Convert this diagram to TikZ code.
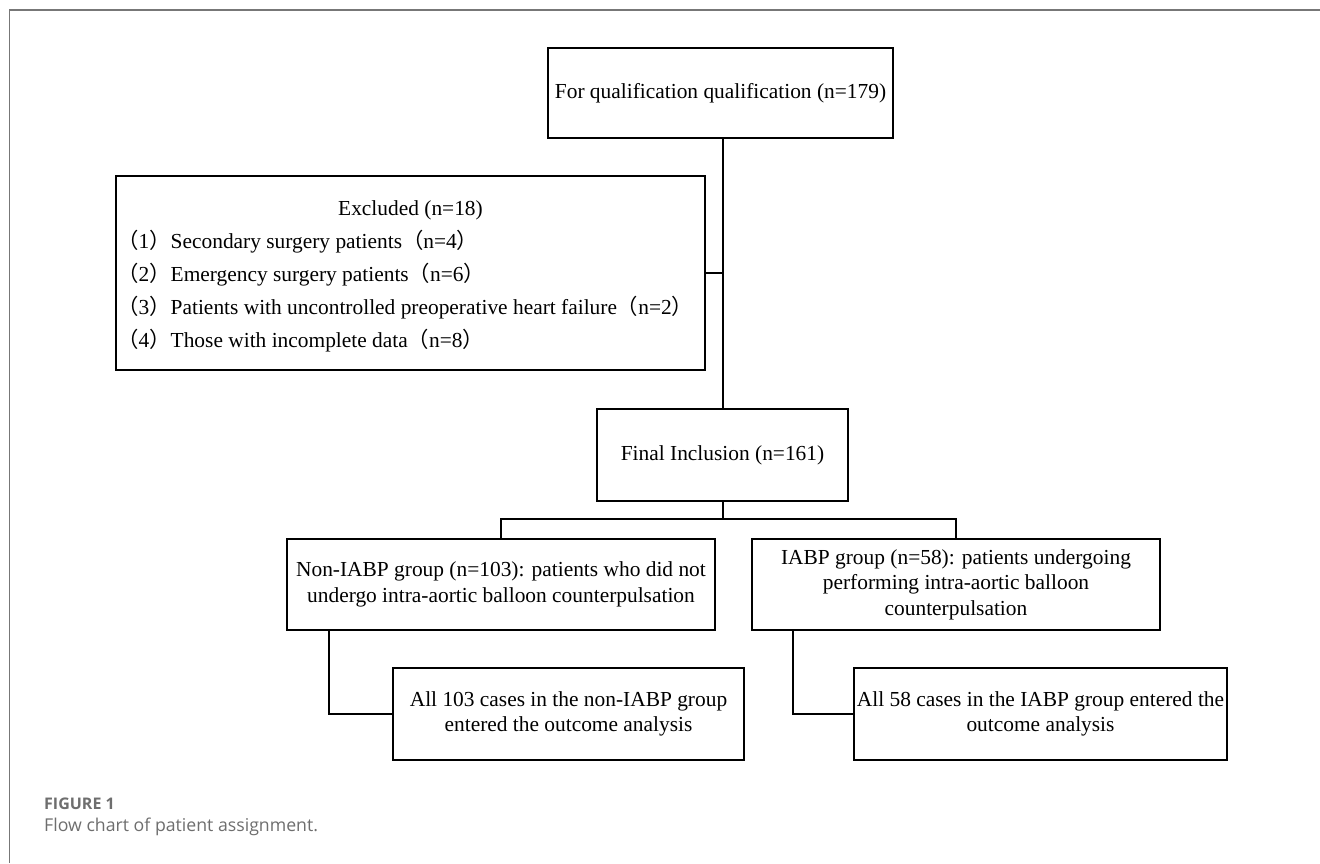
\documentclass[tikz,border=0pt]{standalone}
\usepackage{fontspec}
\setmainfont{Liberation Serif}
\newfontfamily\cjk{Noto Sans CJK SC}
\newfontfamily\capfont{Open Sans}
\definecolor{capgray}{HTML}{6E6E6E}
\definecolor{framegray}{HTML}{777777}
\newcommand{\fwl}{{\cjk （}}
\newcommand{\fwr}{{\cjk ）}}
\begin{document}
\begin{tikzpicture}[x=1pt,y=-1pt,
  box/.style={draw, line width=2pt, inner sep=0pt, align=center,
    font=\fontsize{21.4}{25.5}\selectfont},
  txt/.style={inner sep=0pt, font=\fontsize{21.4}{25.5}\selectfont},
  conn/.style={draw, line width=2pt},
  framec/.style={draw=framegray, line width=1.5pt}]
\useasboundingbox (0,0) rectangle (1320,863);
\fill[white] (0,0) rectangle (1320,863);
\draw[framec] (1320,10) -- (9.5,10) -- (9.5,863);

\node[box, minimum width=345pt, minimum height=90pt] (top) at (720.5,93) {For qualification qualification (n=179)};
\node[box, minimum width=589pt, minimum height=194pt] (exc) at (410.5,273) {};
\node[txt, anchor=base] (exct) at (410.5,215) {Excluded (n=18)};
\node[txt, anchor=base west] (ex1) at (117,248) {\fwl 1\fwr Secondary surgery patients\fwl n=4\fwr};
\node[txt, anchor=base west] (ex2) at (117,281) {\fwl 2\fwr Emergency surgery patients\fwl n=6\fwr};
\node[txt, anchor=base west] (ex3) at (117,314) {\fwl 3\fwr Patients with uncontrolled preoperative heart failure\fwl n=2\fwr};
\node[txt, anchor=base west] (ex4) at (117,347) {\fwl 4\fwr Those with incomplete data\fwl n=8\fwr};

\node[box, minimum width=251pt, minimum height=92pt] (fin) at (722.5,455) {Final Inclusion (n=161)};
\node[box, minimum width=428pt, minimum height=91pt] (non) at (501,584.5) {Non-IABP group (n=103): patients who did not\\undergo intra-aortic balloon counterpulsation};
\node[box, minimum width=408pt, minimum height=91pt] (iabp) at (956,584.5) {IABP group (n=58): patients undergoing\\performing intra-aortic balloon\\counterpulsation};
\node[box, minimum width=351pt, minimum height=92pt] (bl) at (568.5,714) {All 103 cases in the non-IABP group\\entered the outcome analysis};
\node[box, minimum width=373pt, minimum height=92pt] (brb) at (1040.5,714) {All 58 cases in the IABP group entered the\\outcome analysis};

\coordinate (br) at (722.5,519);
\draw[conn] (top.south -| fin.north) -- (fin.north);
\draw[conn] (exc.east) -- (exc.east -| fin.north);
\draw[conn] (fin.south) -- (br);
\draw[conn] (non.north) |- (br) -| (iabp.north);
\draw[conn] ([xshift=-172pt]non.south) |- (bl.west);
\draw[conn] ([xshift=-163pt]iabp.south) |- (brb.west);

\node[anchor=base west, inner sep=0pt, text=capgray, font=\capfont\bfseries\fontsize{16}{18}\selectfont] (figl) at (44,809) {FIGURE 1};
\node[anchor=base west, inner sep=0pt, text=capgray, font=\capfont\fontsize{17.7}{20}\selectfont] (figc) at (44,831) {Flow chart of patient assignment.};
\end{tikzpicture}
\end{document}
